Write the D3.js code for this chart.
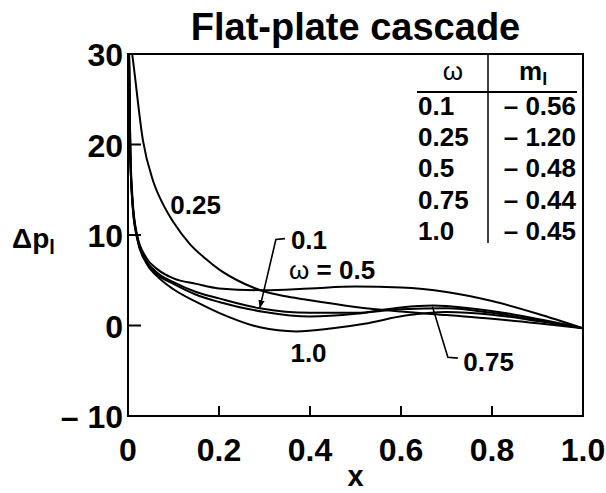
<!DOCTYPE html>
<html>
<head>
<meta charset="utf-8">
<script src="https://cdn.jsdelivr.net/npm/d3@7"></script>
<style>
  body { margin: 0; background: #fff; }
  text { font-family: "Liberation Sans", Arial, Helvetica, sans-serif; font-weight: bold; fill: #000; }
</style>
</head>
<body>
<div id="chart"></div>
<script>
// curves: dp_l along the chord, one per reduced frequency
var x01 = [0.002, 0.005, 0.01, 0.02, 0.04, 0.065, 0.1, 0.15, 0.2, 0.29, 0.4, 0.5, 0.6, 0.7, 0.8, 0.9, 1.0];
var y01 = [31, 19, 13.5, 9.8, 7.2, 5.8, 4.8, 3.7, 3.0, 1.9, 1.4, 1.4, 1.8, 1.9, 1.4, 0.6, -0.3];

var x025 = [0.004, 0.011, 0.033, 0.055, 0.075, 0.1, 0.136, 0.17, 0.2, 0.24, 0.275, 0.3, 0.35, 0.4, 0.5, 0.6, 0.7, 0.8, 0.9, 1.0];
var y025 = [32, 29.3, 20.4, 16, 13.6, 11.4, 9.0, 7.4, 6.2, 5.0, 4.2, 3.75, 3.2, 2.78, 2.05, 1.55, 1.15, 0.75, 0.25, -0.3];

var x05 = [0.002, 0.005, 0.01, 0.02, 0.04, 0.065, 0.1, 0.15, 0.2, 0.3, 0.4, 0.5, 0.6, 0.7, 0.8, 0.9, 1.0];
var y05 = [31, 20, 14, 10, 7.5, 6.2, 5.2, 4.6, 4.1, 3.9, 4.1, 4.3, 4.2, 3.7, 2.7, 1.3, -0.3];

var x075 = [0.002, 0.005, 0.01, 0.02, 0.04, 0.065, 0.1, 0.15, 0.2, 0.3, 0.4, 0.5, 0.6, 0.67, 0.75, 0.85, 1.0];
var y075 = [31, 19, 13.5, 9.8, 7.1, 5.6, 4.6, 3.4, 2.6, 1.5, 1.0, 1.3, 2.0, 2.2, 1.9, 1.2, -0.3];

var x10 = [0.002, 0.005, 0.01, 0.02, 0.04, 0.065, 0.1, 0.15, 0.2, 0.29, 0.37, 0.45, 0.52, 0.61, 0.7, 0.8, 0.9, 1.0];
var y10 = [31, 19, 13.3, 9.6, 6.9, 5.4, 4.0, 2.6, 1.4, -0.2, -0.65, -0.3, 0.2, 1.1, 1.5, 1.2, 0.5, -0.3];

var xTicks = [0, 0.2, 0.4, 0.6, 0.8, 1.0];
var xTickLabels = ["0", "0.2", "0.4", "0.6", "0.8", "1.0"];
var yTicks = [-10, 0, 10, 20, 30];
var yTickLabels = ["\u2013 10", "0", "10", "20", "30"];

// legend table
var omegaCol = ["0.1", "0.25", "0.5", "0.75", "1.0"];
var mCol = ["\u2013 0.56", "\u2013 1.20", "\u2013 0.48", "\u2013 0.44", "\u2013 0.45"];

var series = [
  {x: x01, y: y01},
  {x: x025, y: y025},
  {x: x05, y: y05},
  {x: x075, y: y075},
  {x: x10, y: y10}
];

// curve labels (data units) and leader lines
var curveLabels = [
  {text: "0.25", x: 0.093, y: 12.3},
  {text: "0.1", x: 0.358, y: 8.4},
  {text: "1.0", x: 0.357, y: -4.0},
  {text: "0.75", x: 0.737, y: -5.0}
];
var leader01 = [[0.345, 9.6], [0.325, 9.5], [0.29, 2.0]];
var leader075 = [[0.669, 2.1], [0.703, -3.5], [0.725, -3.6]];

var W = 606, H = 493;
var margin = {left: 128, right: 23, top: 54, bottom: 77};

var svg = d3.select("#chart").append("svg")
    .attr("width", W).attr("height", H);

var xScale = d3.scaleLinear().domain([0, 1]).range([margin.left, W - margin.right]);
var yScale = d3.scaleLinear().domain([-10, 30]).range([H - margin.bottom, margin.top]);

svg.append("defs").append("clipPath").attr("id", "clip")
  .append("rect")
    .attr("x", xScale(0)).attr("y", yScale(30))
    .attr("width", xScale(1) - xScale(0)).attr("height", yScale(-10) - yScale(30));

svg.select("defs").append("marker")
    .attr("id", "arrow")
    .attr("viewBox", "0 0 10 10")
    .attr("refX", 9).attr("refY", 5)
    .attr("markerWidth", 5).attr("markerHeight", 7)
    .attr("orient", "auto")
  .append("path").attr("d", "M0,1 L10,5 L0,9 Z").attr("fill", "#000");

// title
svg.append("text")
    .attr("x", (xScale(0) + xScale(1)) / 2).attr("y", 40)
    .attr("text-anchor", "middle")
    .style("font-size", "38px")
    .text("Flat-plate cascade");

// frame
svg.append("rect")
    .attr("x", xScale(0)).attr("y", yScale(30))
    .attr("width", xScale(1) - xScale(0)).attr("height", yScale(-10) - yScale(30))
    .attr("fill", "none").attr("stroke", "#000").attr("stroke-width", 2);

// inner ticks
svg.selectAll(".xt").data(xTicks.slice(1, -1)).enter().append("line")
    .attr("x1", function(d) { return xScale(d); })
    .attr("x2", function(d) { return xScale(d); })
    .attr("y1", yScale(-10)).attr("y2", yScale(-10) - 10)
    .attr("stroke", "#000").attr("stroke-width", 2);
svg.selectAll(".yt").data(yTicks.slice(1, -1)).enter().append("line")
    .attr("x1", xScale(0)).attr("x2", xScale(0) + 13)
    .attr("y1", function(d) { return yScale(d); })
    .attr("y2", function(d) { return yScale(d); })
    .attr("stroke", "#000").attr("stroke-width", 2);

// tick labels
svg.selectAll(".xl").data(xTicks).enter().append("text")
    .attr("x", function(d) { return xScale(d); })
    .attr("y", 461)
    .attr("text-anchor", "middle")
    .style("font-size", "32px")
    .text(function(d, i) { return xTickLabels[i]; });
svg.selectAll(".yl").data(yTicks).enter().append("text")
    .attr("x", xScale(0) - 5)
    .attr("y", function(d) { return yScale(d) + 12; })
    .attr("text-anchor", "end")
    .style("font-size", "32px")
    .text(function(d, i) { return yTickLabels[i]; });

// axis titles
svg.append("text")
    .attr("x", xScale(0.5)).attr("y", 486)
    .attr("text-anchor", "middle")
    .style("font-size", "29px")
    .text("x");
var yl = svg.append("text")
    .attr("x", 12).attr("y", 248)
    .style("font-size", "28px");
yl.append("tspan").text("\u0394p");
yl.append("tspan").attr("dy", 6).style("font-size", "20px").text("l");

// curves
var line = d3.line()
    .x(function(d) { return xScale(d[0]); })
    .y(function(d) { return yScale(d[1]); })
    .curve(d3.curveMonotoneX);

svg.append("g").attr("clip-path", "url(#clip)")
  .selectAll("path").data(series).enter().append("path")
    .attr("d", function(s) { return line(s.x.map(function(v, i) { return [v, s.y[i]]; })); })
    .attr("fill", "none").attr("stroke", "#000").attr("stroke-width", 2);

// curve labels
svg.selectAll(".cl").data(curveLabels).enter().append("text")
    .attr("x", function(d) { return xScale(d.x); })
    .attr("y", function(d) { return yScale(d.y); })
    .style("font-size", "26px")
    .text(function(d) { return d.text; });
var wl = svg.append("text")
    .attr("x", xScale(0.354)).attr("y", yScale(5.1))
    .style("font-size", "26px");
wl.append("tspan").style("font-weight", "normal").text("\u03c9");
wl.append("tspan").text(" = 0.5");

var seg = d3.line()
    .x(function(d) { return xScale(d[0]); })
    .y(function(d) { return yScale(d[1]); });
svg.append("path").attr("d", seg(leader01))
    .attr("fill", "none").attr("stroke", "#000").attr("stroke-width", 1.6)
    .attr("marker-end", "url(#arrow)");
svg.append("path").attr("d", seg(leader075))
    .attr("fill", "none").attr("stroke", "#000").attr("stroke-width", 1.6);

// legend table
var tab = svg.append("g");
tab.append("line").attr("x1", 417).attr("x2", 577).attr("y1", 92).attr("y2", 92)
    .attr("stroke", "#000").attr("stroke-width", 2);
tab.append("line").attr("x1", 488).attr("x2", 488).attr("y1", 55).attr("y2", 243)
    .attr("stroke", "#000").attr("stroke-width", 1.5);
tab.append("text").attr("x", 453).attr("y", 80).attr("text-anchor", "middle")
    .style("font-size", "26px").style("font-weight", "normal").text("\u03c9");
var mh = tab.append("text").attr("x", 519).attr("y", 80).style("font-size", "26px");
mh.append("tspan").text("m");
mh.append("tspan").attr("dy", 5).style("font-size", "18px").text("l");
tab.selectAll(".om").data(omegaCol).enter().append("text")
    .attr("x", 418).attr("y", function(d, i) { return 115 + i * 31.2; })
    .style("font-size", "26px")
    .text(function(d) { return d; });
tab.selectAll(".mv").data(mCol).enter().append("text")
    .attr("x", 576).attr("y", function(d, i) { return 115 + i * 31.2; })
    .attr("text-anchor", "end")
    .style("font-size", "26px")
    .text(function(d) { return d; });
</script>
</body>
</html>
